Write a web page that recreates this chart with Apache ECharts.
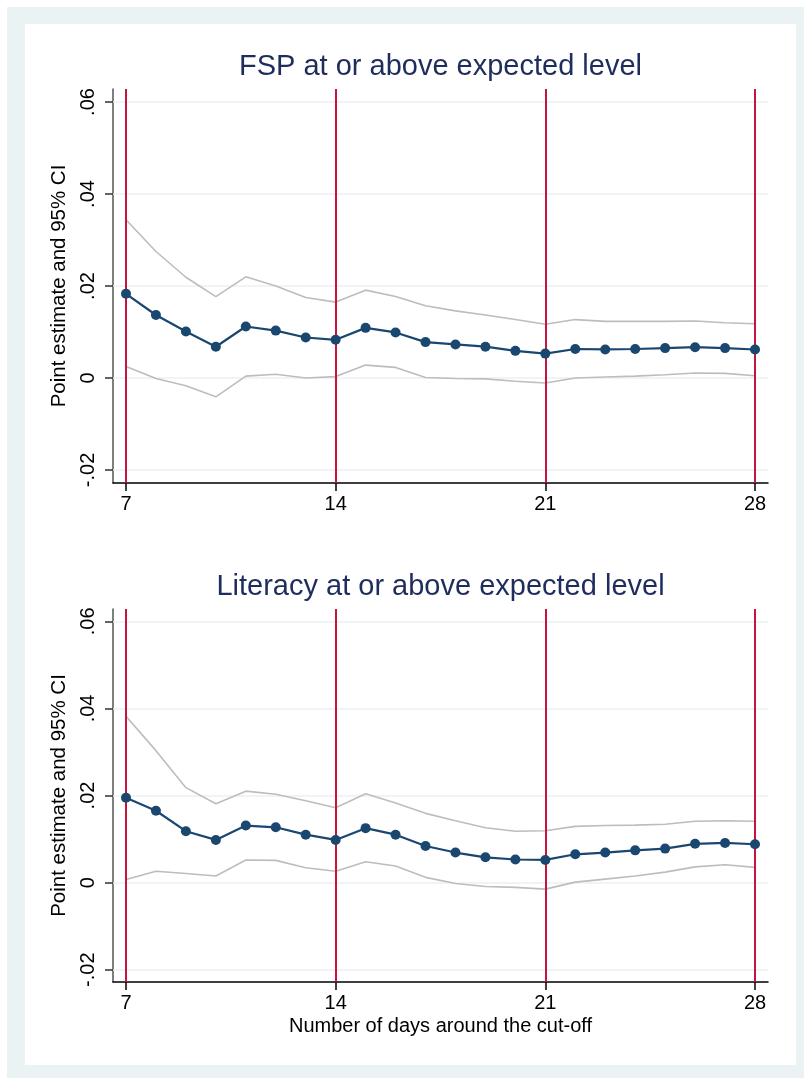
<!DOCTYPE html>
<html>
<head>
<meta charset="utf-8">
<script src="https://cdn.jsdelivr.net/npm/echarts@6/dist/echarts.min.js"></script>
<style>
html,body{margin:0;padding:0;background:#ffffff;}
#frame{position:absolute;left:7px;top:7px;width:797px;height:1071px;background:#eaf2f3;}
#inner{position:absolute;left:25px;top:24px;width:771px;height:1041px;background:#ffffff;}
#chart{position:absolute;left:0;top:0;width:804px;height:1078px;}
</style>
</head>
<body>
<div id="frame"></div>
<div id="inner"></div>
<div id="chart"></div>
<script>
const days = [7,8,9,10,11,12,13,14,15,16,17,18,19,20,21,22,23,24,25,26,27,28];
const xTicks = [7,14,21,28];
const cutoffs = [7,14,21,28];
const yTicks = [-0.02,0,0.02,0.04,0.06];
const titles = ["FSP at or above expected level","Literacy at or above expected level"];
const xTitle = "Number of days around the cut-off";
const yTitle = "Point estimate and 95% CI";

const fspEst = [0.0183,0.0137,0.0101,0.0068,0.0112,0.0103,0.0088,0.0083,0.0109,0.0099,0.0078,0.0073,0.0068,0.0059,0.0053,0.0063,0.0062,0.0063,0.0065,0.0067,0.0065,0.0062];
const fspHi  = [0.0344,0.0275,0.0219,0.0177,0.0220,0.0200,0.0175,0.0165,0.0191,0.0177,0.0157,0.0146,0.0137,0.0127,0.0117,0.0127,0.0123,0.0123,0.0123,0.0124,0.0120,0.0118];
const fspLo  = [0.0025,-0.0001,-0.0017,-0.0041,0.0004,0.0008,0.0000,0.0003,0.0028,0.0023,0.0001,-0.0001,-0.0002,-0.0007,-0.0011,0.0000,0.0002,0.0004,0.0007,0.0011,0.0010,0.0005];

const litEst = [0.0195,0.0165,0.0118,0.0098,0.0131,0.0127,0.0110,0.0098,0.0125,0.0110,0.0084,0.0069,0.0058,0.0053,0.0052,0.0065,0.0069,0.0074,0.0078,0.0089,0.0091,0.0088];
const litHi  = [0.0382,0.0303,0.0218,0.0181,0.0210,0.0203,0.0188,0.0172,0.0204,0.0183,0.0159,0.0142,0.0126,0.0118,0.0119,0.0129,0.0131,0.0132,0.0134,0.0141,0.0142,0.0141];
const litLo  = [0.0007,0.0026,0.0021,0.0015,0.0052,0.0051,0.0034,0.0026,0.0048,0.0038,0.0012,-0.0002,-0.0009,-0.0011,-0.0015,0.0001,0.0008,0.0015,0.0024,0.0036,0.0041,0.0035];

const FONT = "'Liberation Sans', Arial, Helvetica, sans-serif";
const NAVY = '#1a476f';
const CI = '#bdbdbd';
const RED = '#c8143c';
const GRID = '#eaf2f3';

const panels = [
  {est: fspEst, hi: fspHi, lo: fspLo, grid: {left: 113, top: 89, width: 655, height: 394}, titleTop: 52, xName: ''},
  {est: litEst, hi: litHi, lo: litLo, grid: {left: 113, top: 609, width: 655, height: 373}, titleTop: 572, xName: xTitle}
];

function pairs(arr){ return days.map((d,i)=>[d,arr[i]]); }
function fmtY(v){ if (Math.abs(v) < 1e-9) return '0'; return v.toFixed(2).replace('0.', '.'); }

const option = {
  animation: false,
  backgroundColor: 'transparent',
  title: panels.map((p,i)=>({
    text: titles[i], left: 440.5, top: p.titleTop, textAlign: 'center', padding: 0,
    textStyle: {fontFamily: FONT, fontSize: 29, fontWeight: 'normal', color: '#1f2d5c'}
  })),
  grid: panels.map(p=>Object.assign({containLabel: false}, p.grid)),
  xAxis: panels.map((p,i)=>({
    type: 'value', gridIndex: i, min: 6.566, max: 28.434,
    name: p.xName, nameLocation: 'middle', nameGap: 34,
    nameTextStyle: {fontFamily: FONT, fontSize: 20, color: '#000'},
    axisLine: {show: true, onZero: false, lineStyle: {color: '#000', width: 1.5}},
    axisTick: {show: true, length: 8, customValues: xTicks, lineStyle: {color: '#000', width: 1.5}},
    axisLabel: {show: true, customValues: xTicks, margin: 11, fontFamily: FONT, fontSize: 20, color: '#000'},
    splitLine: {show: false}
  })),
  yAxis: panels.map((p,i)=>({
    type: 'value', gridIndex: i, min: -0.02283, max: 0.06283,
    name: yTitle, nameLocation: 'middle', nameGap: 33, nameRotate: 90,
    nameTextStyle: {fontFamily: FONT, fontSize: 20.5, color: '#000'},
    axisLine: {show: true, onZero: false, lineStyle: {color: '#555', width: 1.5}},
    axisTick: {show: true, length: 8, customValues: yTicks, lineStyle: {color: '#333', width: 1.5}},
    axisLabel: {show: true, customValues: yTicks, rotate: 90, margin: 15, fontFamily: FONT, fontSize: 20, color: '#000', formatter: fmtY},
    splitLine: {show: false}
  })),
  series: []
};

panels.forEach((p,i)=>{
  option.series.push({
    type: 'line', xAxisIndex: i, yAxisIndex: i, data: [], z: 1, silent: true,
    markLine: {silent: true, symbol: 'none', z: 1, label: {show: false}, animation: false,
      lineStyle: {color: GRID, width: 1.5, type: 'solid'},
      emphasis: {disabled: true},
      data: yTicks.map(v=>({yAxis: v}))}
  });
  option.series.push({
    type: 'line', xAxisIndex: i, yAxisIndex: i, data: pairs(p.lo), z: 2, showSymbol: false, symbol: 'none',
    lineStyle: {color: CI, width: 1.6}
  });
  option.series.push({
    type: 'line', xAxisIndex: i, yAxisIndex: i, data: pairs(p.hi), z: 2, showSymbol: false, symbol: 'none',
    lineStyle: {color: CI, width: 1.6}
  });
  option.series.push({
    type: 'line', xAxisIndex: i, yAxisIndex: i, data: [], z: 3, silent: true,
    markLine: {silent: true, symbol: 'none', z: 3, label: {show: false}, animation: false,
      lineStyle: {color: RED, width: 2, type: 'solid'},
      emphasis: {disabled: true},
      data: cutoffs.map(v=>({xAxis: v}))}
  });
  option.series.push({
    type: 'line', xAxisIndex: i, yAxisIndex: i, data: pairs(p.est), z: 4,
    symbol: 'circle', symbolSize: 10, showAllSymbol: true,
    itemStyle: {color: NAVY}, lineStyle: {color: NAVY, width: 2.2}
  });
});

const chart = echarts.init(document.getElementById('chart'), null, {renderer: 'canvas'});
chart.setOption(option);
</script>
</body>
</html>
